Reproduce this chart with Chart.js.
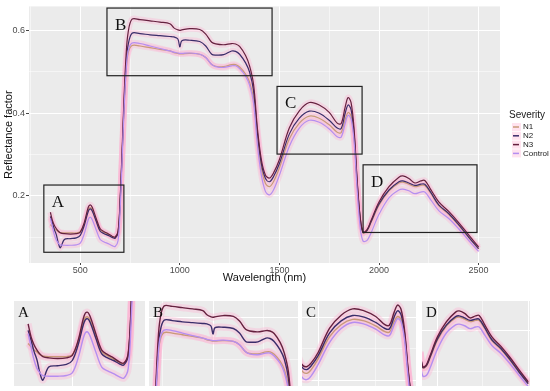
<!DOCTYPE html>
<html>
<head>
<meta charset="utf-8">
<script src="https://cdn.jsdelivr.net/npm/chart.js@4.4.1/dist/chart.umd.min.js"></script>
<style>
  body { margin: 0; background: #fff; width: 550px; height: 391px; position: relative; overflow: hidden; }
  canvas { position: absolute; }
</style>
</head>
<body>
<canvas id="main" width="550" height="290" style="left:0;top:0"></canvas>
<canvas id="insA" width="131" height="85" style="left:14px;top:301px"></canvas>
<canvas id="insB" width="149" height="85" style="left:149px;top:301px"></canvas>
<canvas id="insC" width="114" height="85" style="left:302px;top:301px"></canvas>
<canvas id="insD" width="108" height="85" style="left:422px;top:301px"></canvas>
<script>
// wavelength (nm)
let wavelength = [350,360,370,380,390,400,420,450,480,500,520,540,550,560,580,600,620,640,660,675,690,700,710,720,730,740,760,800,850,900,950,970,990,1000,1010,1050,1100,1130,1160,1180,1220,1260,1280,1300,1330,1350,1370,1390,1410,1430,1450,1470,1500,1550,1600,1650,1700,1750,1790,1810,1830,1845,1860,1875,1890,1905,1920,1940,1960,2000,2050,2100,2120,2150,2180,2210,2230,2260,2300,2350,2400,2450,2500];

let n1 = [0.130,0.125,0.120,0.117,0.113,0.111,0.110,0.110,0.110,0.113,0.133,0.166,0.171,0.166,0.140,0.117,0.111,0.106,0.101,0.099,0.113,0.185,0.295,0.415,0.500,0.545,0.564,0.563,0.559,0.555,0.551,0.547,0.545,0.544,0.544,0.545,0.543,0.535,0.518,0.514,0.513,0.518,0.518,0.512,0.495,0.475,0.435,0.335,0.265,0.230,0.222,0.234,0.268,0.338,0.376,0.393,0.388,0.372,0.354,0.353,0.385,0.402,0.392,0.338,0.230,0.146,0.110,0.115,0.135,0.177,0.212,0.231,0.233,0.228,0.222,0.225,0.225,0.206,0.176,0.155,0.128,0.099,0.071];

let n2 = [0.150,0.135,0.118,0.105,0.085,0.074,0.094,0.096,0.098,0.104,0.128,0.162,0.168,0.163,0.138,0.114,0.108,0.104,0.099,0.097,0.112,0.185,0.300,0.425,0.520,0.565,0.594,0.593,0.590,0.588,0.586,0.585,0.580,0.561,0.576,0.577,0.574,0.563,0.543,0.541,0.542,0.551,0.550,0.543,0.522,0.500,0.455,0.350,0.276,0.242,0.234,0.246,0.278,0.350,0.388,0.405,0.400,0.383,0.364,0.363,0.400,0.420,0.408,0.350,0.235,0.148,0.111,0.116,0.137,0.180,0.214,0.234,0.236,0.231,0.225,0.228,0.228,0.208,0.178,0.157,0.130,0.100,0.072];

let n3 = [0.160,0.140,0.128,0.120,0.114,0.110,0.108,0.107,0.108,0.112,0.135,0.172,0.178,0.172,0.145,0.120,0.113,0.108,0.102,0.100,0.115,0.190,0.310,0.440,0.540,0.595,0.628,0.627,0.624,0.621,0.617,0.607,0.602,0.601,0.602,0.605,0.603,0.592,0.572,0.568,0.566,0.569,0.568,0.562,0.540,0.515,0.470,0.360,0.285,0.250,0.243,0.255,0.288,0.365,0.406,0.426,0.420,0.402,0.376,0.375,0.415,0.438,0.425,0.360,0.240,0.150,0.112,0.118,0.140,0.185,0.222,0.245,0.248,0.242,0.231,0.236,0.237,0.215,0.185,0.162,0.135,0.105,0.076];

let control = [0.145,0.125,0.105,0.092,0.085,0.081,0.080,0.080,0.081,0.085,0.108,0.142,0.148,0.142,0.117,0.094,0.088,0.084,0.079,0.077,0.092,0.165,0.285,0.410,0.500,0.550,0.570,0.569,0.563,0.557,0.551,0.548,0.546,0.545,0.545,0.546,0.543,0.535,0.518,0.513,0.511,0.515,0.515,0.508,0.490,0.468,0.425,0.320,0.248,0.210,0.202,0.214,0.250,0.320,0.364,0.383,0.378,0.362,0.343,0.342,0.375,0.395,0.385,0.330,0.215,0.125,0.090,0.092,0.110,0.155,0.195,0.214,0.216,0.212,0.205,0.209,0.209,0.190,0.164,0.145,0.120,0.092,0.065];

let seriesNames = ['N1','N2','N3','Control'];
let seriesColors = ['#c89a78','#3a2d6a','#65213f','#b58ef0'];

let xTicks = [500,1000,1500,2000,2500];
let xMinor = [250,750,1250,1750,2250];
let yTicks = [0.2,0.4,0.6];
let yMinor = [0.1,0.3,0.5];

// zoom boxes on the main panel (data units) and the ranges of the small panels
let boxLabels = ['A','B','C','D'];
let boxX = [[317,719],[634,1463],[1488,1915],[1920,2492]];
let boxY = [[0.063,0.226],[0.491,0.655],[0.301,0.465],[0.111,0.275]];
let insetX = [[302,747],[686,1417],[1430,1925],[1915,2510]];
let insetY = [[0.065,0.195],[0.436,0.640],[0.182,0.451],[0.066,0.272]];

let allSeries = [n1,n2,n3,control];

function pts(vals) {
  return wavelength.map((w,i) => ({x: w, y: vals[i]}));
}

function buildDatasets(lw) {
  let ds = [];
  for (let i = 0; i < 4; i++) {
    ds.push({
      label: seriesNames[i],
      data: pts(allSeries[i]),
      borderColor: seriesColors[i],
      backgroundColor: seriesColors[i],
      borderWidth: lw,
      pointRadius: 0,
      tension: 0.35,
      order: 4 - i
    });
  }
  // pink ribbons under the lines
  for (let i = 0; i < 4; i++) {
    ds.push({
      label: '',
      data: pts(allSeries[i]),
      borderColor: 'rgba(255,175,210,0.35)',
      borderWidth: lw * 5,
      pointRadius: 0,
      tension: 0.35,
      order: 20
    });
  }
  return ds;
}

let panelBg = {
  id: 'panelBg',
  beforeDraw(chart) {
    let a = chart.chartArea, c = chart.ctx;
    c.save();
    c.fillStyle = '#ebebeb';
    c.fillRect(a.left, a.top, a.right - a.left, a.bottom - a.top);
    c.restore();
  }
};

let zoomBoxes = {
  id: 'zoomBoxes',
  afterDatasetsDraw(chart) {
    let c = chart.ctx, xs = chart.scales.x, ys = chart.scales.y;
    c.save();
    c.strokeStyle = '#222';
    c.lineWidth = 1.2;
    c.fillStyle = '#111';
    c.font = '17px "Liberation Serif", "Times New Roman", serif';
    c.textBaseline = 'top';
    boxLabels.forEach((lab, i) => {
      let x0 = xs.getPixelForValue(boxX[i][0]), x1 = xs.getPixelForValue(boxX[i][1]);
      let y0 = ys.getPixelForValue(boxY[i][1]), y1 = ys.getPixelForValue(boxY[i][0]);
      c.strokeRect(x0, y0, x1 - x0, y1 - y0);
      c.fillText(lab, x0 + 8, y0 + 9);
    });
    c.restore();
  }
};

// ggplot-style legend to the right of the panel
let severityLegend = {
  id: 'severityLegend',
  afterDraw(chart) {
    let c = chart.ctx, left = chart.chartArea.right + 9;
    c.save();
    c.fillStyle = '#1a1a1a';
    c.textBaseline = 'middle';
    c.font = '10px "Liberation Sans", Arial, sans-serif';
    c.fillText('Severity', left, 115);
    c.font = '8px "Liberation Sans", Arial, sans-serif';
    seriesNames.forEach((name, i) => {
      let y = 127 + i * 8.8;
      c.fillStyle = 'rgba(255,175,210,0.35)';
      c.fillRect(left + 3, y - 4, 9, 8);
      c.strokeStyle = seriesColors[i];
      c.lineWidth = 1.5;
      c.beginPath();
      c.moveTo(left + 4, y);
      c.lineTo(left + 10, y);
      c.stroke();
      c.fillStyle = '#1a1a1a';
      c.fillText(name, left + 14, y);
    });
    c.restore();
  }
};

function gridColor(ctx) { return '#ffffff'; }

function tickList(min, max, major, minor) {
  return major.concat(minor).filter(v => v >= min && v <= max).sort((a,b) => a-b).map(v => ({value: v}));
}

function isMajorY(v) { return yTicks.some(t => Math.abs(t - v) < 1e-9); }

new Chart(document.getElementById('main'), {
  type: 'line',
  data: { datasets: buildDatasets(1.2) },
  plugins: [panelBg, zoomBoxes, severityLegend],
  options: {
    responsive: false,
    animation: false,
    layout: { padding: { top: 4, right: 50, left: 2, bottom: 5 } },
    plugins: {
      tooltip: { enabled: false },
      legend: { display: false }
    },
    scales: {
      x: {
        type: 'linear', min: 242.5, max: 2607.5,
        afterBuildTicks: s => { s.ticks = tickList(s.min, s.max, xTicks, xMinor); },
        afterFit: s => { s.height = 22; },
        ticks: {
          color: '#4d4d4d', font: { size: 9, family: 'Liberation Sans' }, padding: 0,
          autoSkip: false, maxRotation: 0,
          callback: v => xTicks.includes(v) ? String(v) : ''
        },
        grid: {
          color: gridColor, tickColor: ctx => xTicks.includes(ctx.tick.value) ? '#444' : 'rgba(0,0,0,0)',
          lineWidth: ctx => xTicks.includes(ctx.tick.value) ? 1 : 0.5, tickLength: 2
        },
        border: { display: false },
        title: { display: true, text: 'Wavelength (nm)', color: '#111', font: { size: 11, family: 'Liberation Sans' }, padding: { top: 0, bottom: 0 } }
      },
      y: {
        type: 'linear', min: 0.037, max: 0.659,
        afterBuildTicks: s => { s.ticks = tickList(s.min, s.max, yTicks, yMinor); },
        afterFit: s => { s.width = 27; },
        ticks: {
          color: '#4d4d4d', font: { size: 9, family: 'Liberation Sans' }, padding: 1,
          autoSkip: false,
          callback: v => isMajorY(v) ? v.toFixed(1) : ''
        },
        grid: {
          color: gridColor, tickColor: ctx => isMajorY(ctx.tick.value) ? '#444' : 'rgba(0,0,0,0)',
          lineWidth: ctx => isMajorY(ctx.tick.value) ? 1 : 0.5, tickLength: 3
        },
        border: { display: false },
        title: { display: true, text: 'Reflectance factor', color: '#111', font: { size: 11, family: 'Liberation Sans' }, padding: 0 }
      }
    }
  }
});

let insetLabel = {
  id: 'insetLabel',
  afterDatasetsDraw(chart, args, opts) {
    let c = chart.ctx;
    c.save();
    c.fillStyle = '#111';
    c.font = '15px "Liberation Serif", "Times New Roman", serif';
    c.textBaseline = 'top';
    c.fillText(opts.text, chart.chartArea.left + 4, chart.chartArea.top + 5);
    c.restore();
  }
};

['insA','insB','insC','insD'].forEach((id, i) => {
  new Chart(document.getElementById(id), {
    type: 'line',
    data: { datasets: buildDatasets(1.4) },
    plugins: [panelBg, insetLabel],
    options: {
      responsive: false,
      animation: false,
      layout: { padding: 0 },
      plugins: { tooltip: { enabled: false }, legend: { display: false }, insetLabel: { text: boxLabels[i] } },
      scales: {
        x: {
          type: 'linear', min: insetX[i][0], max: insetX[i][1],
          afterBuildTicks: s => { s.ticks = tickList(s.min, s.max, xTicks, xMinor); },
          afterFit: s => { s.height = 0; },
          ticks: { display: false },
          grid: { color: gridColor, lineWidth: ctx => xTicks.includes(ctx.tick.value) ? 1 : 0.5, drawTicks: false },
          border: { display: false }
        },
        y: {
          type: 'linear', min: insetY[i][0], max: insetY[i][1],
          afterBuildTicks: s => { s.ticks = tickList(s.min, s.max, yTicks, yMinor); },
          afterFit: s => { s.width = 0; },
          ticks: { display: false },
          grid: { color: gridColor, lineWidth: ctx => isMajorY(ctx.tick.value) ? 1 : 0.5, drawTicks: false },
          border: { display: false }
        }
      }
    }
  });
});
</script>
</body>
</html>
